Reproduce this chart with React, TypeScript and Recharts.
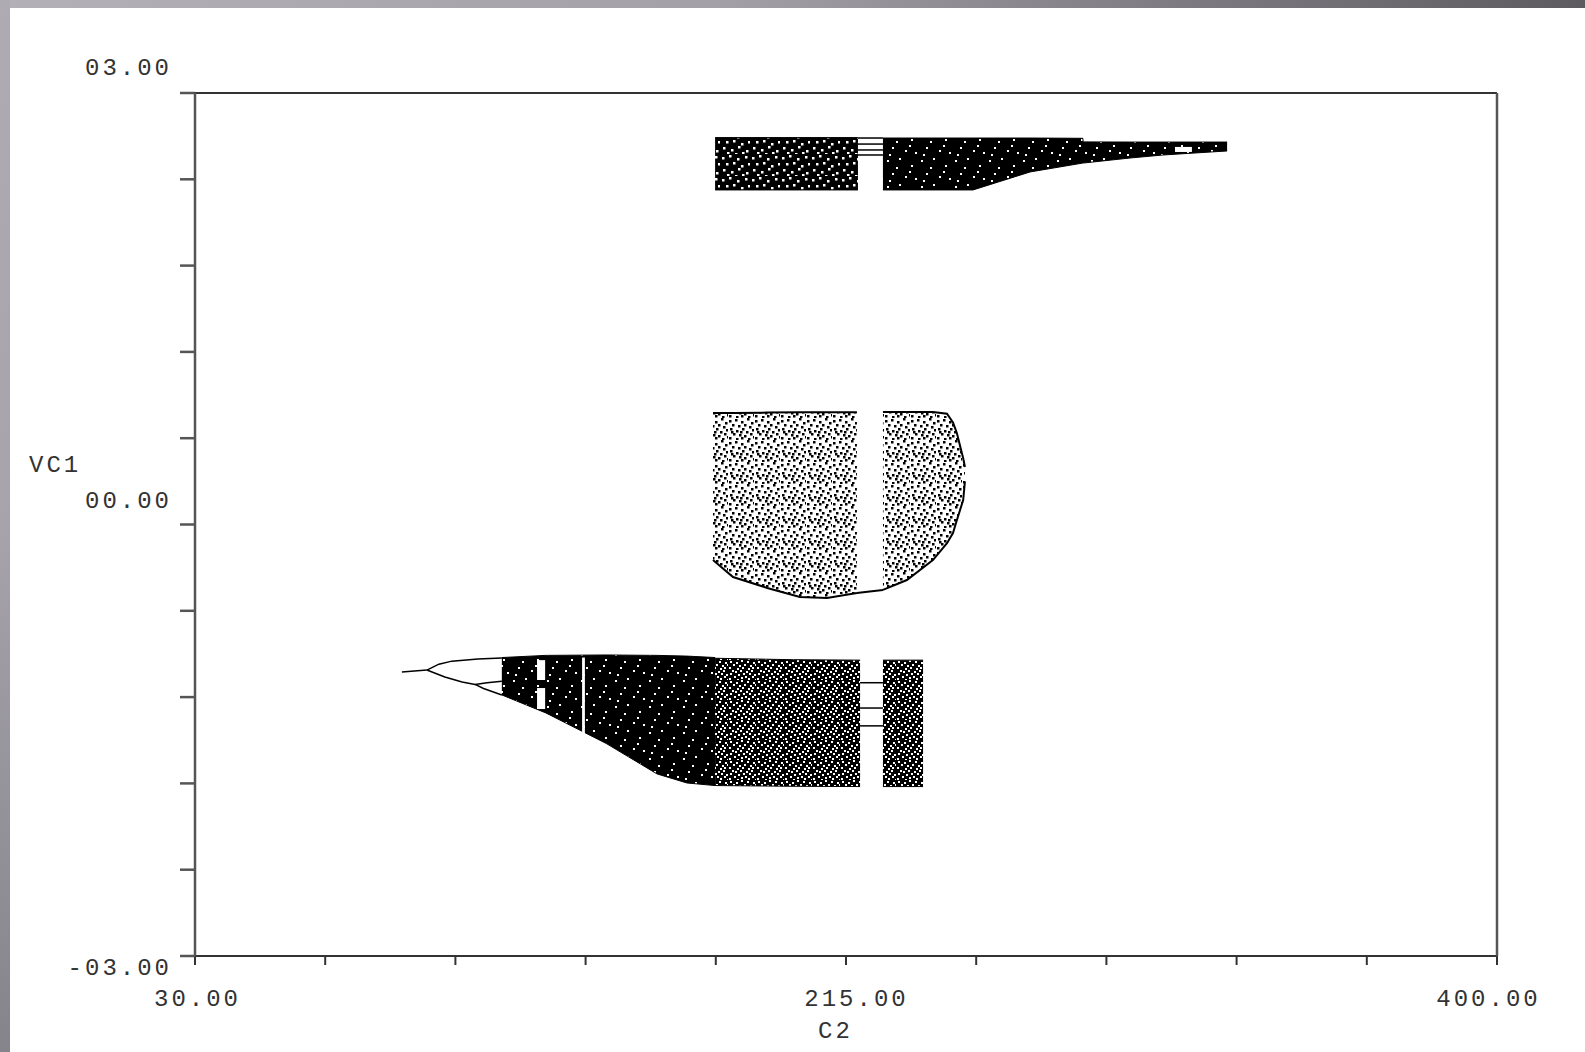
import { ComposedChart, Area, Line, XAxis, YAxis, ReferenceLine } from "recharts";

// axis ticks
const c2Ticks = [30, 67, 104, 141, 178, 215, 252, 289, 326, 363, 400];
const vc1Ticks = [-3, -2.4, -1.8, -1.2, -0.6, 0, 0.6, 1.2, 1.8, 2.4, 3];
const c2TickLabels: Record<string, string> = { "30": "30.00", "215": "215.00", "400": "400.00" };
const vc1TickLabels: Record<string, string> = { "3": "03.00", "0": "00.00", "-3": "-03.00" };

// chaotic bands: C2 -> [VC1 low, VC1 high]
const upperBandA = [
  { c2: 177.8, range: [2.326, 2.69] },
  { c2: 218.4, range: [2.326, 2.69] },
];
const upperBandB = [
  { c2: 225.5, range: [2.326, 2.687] },
  { c2: 251.1, range: [2.326, 2.687] },
  { c2: 267.3, range: [2.451, 2.687] },
  { c2: 282.3, range: [2.513, 2.685] },
  { c2: 282.4, range: [2.513, 2.66] },
  { c2: 295.7, range: [2.548, 2.659] },
  { c2: 305.1, range: [2.569, 2.659] },
  { c2: 323.3, range: [2.597, 2.659] },
];
const middleBandA = [
  { c2: 177.2, range: [-0.247, 0.775] },
  { c2: 182.9, range: [-0.365, 0.775] },
  { c2: 192.6, range: [-0.441, 0.778] },
  { c2: 201.9, range: [-0.504, 0.78] },
  { c2: 209.6, range: [-0.511, 0.78] },
  { c2: 218.1, range: [-0.476, 0.78] },
];
const middleBandB = [
  { c2: 225.5, range: [-0.455, 0.782] },
  { c2: 232.3, range: [-0.386, 0.782] },
  { c2: 239.7, range: [-0.247, 0.782] },
  { c2: 243.7, range: [-0.13, 0.77] },
  { c2: 245.4, range: [-0.059, 0.71] },
  { c2: 246.5, range: [0.03, 0.636] },
  { c2: 248.3, range: [0.17, 0.46] },
  { c2: 248.8, range: [0.3, 0.4] },
];
const lowerBandA = [
  { c2: 117.2, range: [-1.185, -0.925] },
  { c2: 129.7, range: [-1.31, -0.91] },
  { c2: 146.9, range: [-1.523, -0.907] },
  { c2: 161.3, range: [-1.734, -0.91] },
  { c2: 169.8, range: [-1.797, -0.915] },
  { c2: 177.8, range: [-1.815, -0.925] },
];
const lowerBandB = [
  { c2: 177.8, range: [-1.815, -0.93] },
  { c2: 200, range: [-1.82, -0.94] },
  { c2: 219.0, range: [-1.822, -0.943] },
];
const lowerBandC = [
  { c2: 225.5, range: [-1.822, -0.943] },
  { c2: 236.9, range: [-1.822, -0.943] },
];

// periodic windows inside the bands
const whiteWindows = [
  [{ c2: 127.2, range: [-1.081, -0.943] }, { c2: 129.5, range: [-1.081, -0.943] }],
  [{ c2: 127.2, range: [-1.283, -1.137] }, { c2: 129.5, range: [-1.283, -1.137] }],
  [{ c2: 140.0, range: [-1.45, -0.925] }, { c2: 140.8, range: [-1.45, -0.925] }],
  [{ c2: 308.5, range: [2.59, 2.625] }, { c2: 313.3, range: [2.59, 2.625] }],
];
const upperWindowSpan = [218.4, 225.5];
const upperWindowLevels = [2.687, 2.645, 2.604, 2.569];
const lowerWindowSpan = [219.0, 225.5];
const lowerWindowLevels = [-1.1, -1.276, -1.4];
const middleGapCurve = [
  { c2: 218.1, v: -0.476 },
  { c2: 220.5, v: -0.469 },
  { c2: 225.5, v: -0.455 },
];

// period-doubling branches before the lower band
const branchStem = [
  { c2: 88.8, v: -1.026 },
  { c2: 95.9, v: -1.012 },
];
const branchUpper = [
  { c2: 95.9, v: -1.012 },
  { c2: 99.3, v: -0.971 },
  { c2: 103, v: -0.95 },
  { c2: 110.4, v: -0.935 },
  { c2: 117.2, v: -0.928 },
];
const branchLower = [
  { c2: 95.9, v: -1.012 },
  { c2: 101, v: -1.06 },
  { c2: 105.9, v: -1.095 },
  { c2: 109.6, v: -1.112 },
];
const branchLowerA = [
  { c2: 109.6, v: -1.112 },
  { c2: 113, v: -1.1 },
  { c2: 117.2, v: -1.09 },
];
const branchLowerB = [
  { c2: 109.6, v: -1.112 },
  { c2: 112, v: -1.14 },
  { c2: 117.2, v: -1.185 },
];

const lightSpecks = [[3, 4], [15, 2], [27, 9], [8, 17], [21, 20], [31, 22], [12, 11], [25, 15], [5, 24]];
const medSpecks = [[2, 3], [9, 1], [17, 4], [25, 2], [6, 9], [13, 8], [21, 11], [28, 9], [3, 15], [11, 17], [18, 14], [26, 18], [7, 20], [15, 21], [22, 20]];
const heavySpecks = [
  [2, 1], [8, 2], [13, 0], [19, 1], [25, 2], [5, 4], [11, 5], [16, 4], [22, 5], [27, 4],
  [1, 7], [9, 8], [14, 7], [20, 8], [24, 7], [4, 10], [7, 11], [12, 10], [18, 11], [23, 10],
  [2, 13], [10, 14], [15, 13], [21, 13], [26, 14], [6, 16], [13, 17], [17, 16], [24, 16],
  [1, 18], [9, 19], [20, 18], [27, 19],
];
const sparseDots = [
  [1, 2], [7, 1], [13, 3], [19, 0], [23, 4], [4, 6], [10, 7], [16, 6], [21, 8], [2, 10],
  [8, 12], [14, 10], [18, 13], [24, 11], [5, 15], [11, 16], [16, 17], [22, 15], [1, 19],
  [8, 20], [13, 19], [20, 20], [25, 18], [3, 13], [12, 13],
];

const font = "'Liberation Mono', 'DejaVu Sans Mono', monospace";
const textStyle = { fontFamily: font, fontSize: 24, letterSpacing: 3, fill: "#333" };

const XTick = (props: any) => {
  const { x, y, payload } = props;
  const label = c2TickLabels[String(payload.value)];
  if (!label) return <g />;
  const shift = payload.value === 215 ? 9 : payload.value === 400 ? -10 : 1;
  return (
    <text x={x + shift + 1.5} y={y + 39} textAnchor="middle" style={textStyle}>
      {label}
    </text>
  );
};

const YTick = (props: any) => {
  const { x, y, payload } = props;
  const label = vc1TickLabels[String(payload.value)];
  if (!label) return <g />;
  const shift = payload.value === 3 ? -26 : payload.value === 0 ? -25 : 11;
  return (
    <text x={x - 6} y={y + shift + 8} textAnchor="end" style={textStyle}>
      {label}
    </text>
  );
};

function speckPattern(id: string, w: number, h: number, bg: string, fg: string, specks: number[][], size: number) {
  return (
    <pattern id={id} width={w} height={h} patternUnits="userSpaceOnUse">
      {bg !== "none" && <rect width={w} height={h} fill={bg} />}
      {specks.map(([sx, sy], i) => (
        <rect key={i} x={sx} y={sy} width={size} height={size} fill={fg} />
      ))}
    </pattern>
  );
}

export default function App() {
  const bandProps = { type: "linear" as const, dataKey: "range", isAnimationActive: false, stroke: "#000", strokeWidth: 1, fillOpacity: 1 };
  const lineProps = { type: "linear" as const, dataKey: "v", isAnimationActive: false, dot: false, stroke: "#000", strokeWidth: 1.5 };
  return (
    <div style={{ position: "fixed", left: 0, top: 0, width: 1585, height: 1052, background: "#fff", overflow: "hidden" }}>
      <ComposedChart width={1585} height={1052} margin={{ top: 93, right: 87, bottom: 95, left: 194 }}>
        <defs>
          {speckPattern("specksLight", 34, 26, "#000", "#fff", lightSpecks, 2)}
          {speckPattern("specksMed", 30, 22, "#000", "#fff", medSpecks, 2.5)}
          {speckPattern("specksHeavy", 28, 20, "#000", "#fff", heavySpecks, 2)}
          {speckPattern("dotsSparse", 26, 22, "none", "#000", sparseDots, 2.5)}
        </defs>
        <XAxis
          dataKey="c2"
          type="number"
          domain={[30, 400]}
          ticks={c2Ticks}
          interval={0}
          height={1}
          tickSize={9}
          tick={XTick}
          stroke="#333"
          strokeWidth={2}
          allowDataOverflow
        />
        <YAxis
          type="number"
          domain={[-3, 3]}
          ticks={vc1Ticks}
          interval={0}
          width={1}
          tickSize={15}
          tick={YTick}
          stroke="#555"
          strokeWidth={2.5}
          allowDataOverflow
        />
        <YAxis
          yAxisId="right"
          orientation="right"
          type="number"
          domain={[-3, 3]}
          ticks={vc1Ticks}
          interval={0}
          width={1}
          tickSize={15}
          tick={false}
          stroke="#555"
          strokeWidth={2.5}
          allowDataOverflow
        />
        <ReferenceLine y={3} stroke="#333" strokeWidth={2} />

        <Area data={upperBandA} fill="url(#specksMed)" {...bandProps} />
        <Area data={upperBandB} fill="url(#specksLight)" {...bandProps} />
        <Area data={middleBandA} fill="url(#dotsSparse)" {...bandProps} strokeWidth={2} />
        <Area data={middleBandB} fill="url(#dotsSparse)" {...bandProps} strokeWidth={2} />
        <Area data={lowerBandA} fill="url(#specksLight)" {...bandProps} />
        <Area data={lowerBandB} fill="url(#specksHeavy)" {...bandProps} />
        <Area data={lowerBandC} fill="url(#specksHeavy)" {...bandProps} />
        {whiteWindows.map((w, i) => (
          <Area key={"w" + i} data={w} type="linear" dataKey="range" fill="#fff" fillOpacity={1} stroke="none" isAnimationActive={false} />
        ))}

        {upperWindowLevels.map((v, i) => (
          <Line key={"u" + i} data={upperWindowSpan.map((c2) => ({ c2, v }))} {...lineProps} />
        ))}
        {lowerWindowLevels.map((v, i) => (
          <Line key={"l" + i} data={lowerWindowSpan.map((c2) => ({ c2, v }))} {...lineProps} />
        ))}
        <Line data={middleGapCurve} {...lineProps} strokeWidth={2} />
        <Line data={branchStem} {...lineProps} />
        <Line data={branchUpper} {...lineProps} />
        <Line data={branchLower} {...lineProps} />
        <Line data={branchLowerA} {...lineProps} />
        <Line data={branchLowerB} {...lineProps} />
      </ComposedChart>

      <div style={{ position: "absolute", left: 0, top: 0, width: 1585, height: 8, background: "linear-gradient(to right, #b3b0b8, #a3a0a8 45%, #5d5a60)" }} />
      <div style={{ position: "absolute", left: 0, top: 0, width: 10, height: 1052, background: "linear-gradient(to bottom, #aeabb3, #a6a3ab 50%, #86848b)" }} />
      <div style={{ position: "absolute", left: 29, top: 452, fontFamily: font, fontSize: 24, letterSpacing: 3, color: "#333", lineHeight: "28px" }}>VC1</div>
      <div style={{ position: "absolute", left: 818, top: 1018, fontFamily: font, fontSize: 24, letterSpacing: 3, color: "#333", lineHeight: "28px" }}>C2</div>
    </div>
  );
}
